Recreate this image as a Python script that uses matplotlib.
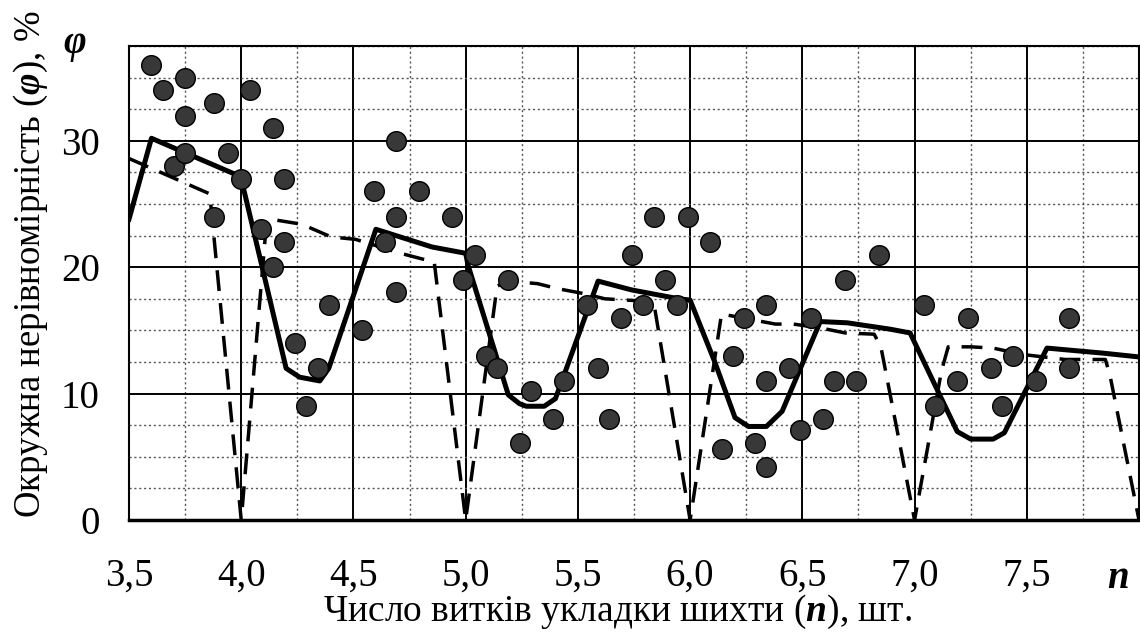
import numpy as np
import matplotlib.pyplot as plt
from matplotlib.ticker import MultipleLocator

plt.rcParams['font.family'] = ['Liberation Serif', 'DejaVu Serif']
plt.rcParams['mathtext.fontset'] = 'custom'
plt.rcParams['mathtext.rm'] = 'Liberation Serif'
plt.rcParams['mathtext.it'] = 'Liberation Serif:italic'
plt.rcParams['mathtext.bf'] = 'Liberation Serif:bold'
plt.rcParams['mathtext.bfit'] = 'Liberation Serif:italic:bold'

# експериментальні точки
n_exp = [3.60, 3.65, 3.75, 3.75, 3.70, 3.75, 3.88, 3.94, 4.00, 4.04, 3.88, 4.09, 4.14, 4.14,
         4.19, 4.19, 4.24, 4.29, 4.34, 4.39, 4.54, 4.59, 4.64, 4.69, 4.69, 4.69, 4.79, 4.94,
         4.99, 5.04, 5.09, 5.14, 5.19, 5.24, 5.29, 5.39, 5.44, 5.54, 5.59, 5.64, 5.69, 5.74,
         5.79, 5.84, 5.89, 5.94, 5.99, 6.09, 6.14, 6.19, 6.24, 6.29, 6.34, 6.34, 6.34, 6.44,
         6.49, 6.54, 6.59, 6.64, 6.69, 6.74, 6.84, 7.04, 7.09, 7.19, 7.24, 7.34, 7.39, 7.44,
         7.54, 7.69, 7.69]
phi_exp = [36, 34, 35, 32, 28, 29, 33, 29, 27, 34, 24, 23, 31, 20,
           27, 22, 14, 9, 12, 17, 15, 26, 22, 30, 24, 18, 26, 24,
           19, 21, 13, 12, 19, 6.1, 10.2, 8, 11, 17, 12, 8, 16, 21,
           17, 24, 19, 17, 24, 22, 5.6, 13, 16, 6.1, 11, 4.2, 17, 12,
           7.1, 16, 8, 11, 19, 11, 21, 17, 9, 11, 16, 12, 9, 13,
           11, 12, 16]

# згладжена крива (суцільна)
n_fit = [3.50, 3.60, 3.98, 4.00, 4.20, 4.26, 4.35, 4.39, 4.60, 4.85, 5.00, 5.01, 5.19, 5.24,
         5.27, 5.35, 5.40, 5.59, 5.74, 5.95, 6.00, 6.11, 6.20, 6.26, 6.34, 6.41, 6.58, 6.70,
         6.89, 6.98, 7.19, 7.25, 7.35, 7.40, 7.59, 7.84, 8.00]
phi_fit = [23.8, 30.2, 27.3, 27.0, 12.0, 11.3, 11.0, 12.0, 23.0, 21.6, 21.1, 20.2, 9.9, 9.2,
           9.0, 9.0, 9.6, 18.9, 18.2, 17.5, 17.4, 12.5, 8.1, 7.4, 7.4, 8.6, 15.7, 15.6,
           15.1, 14.8, 7.0, 6.4, 6.4, 6.9, 13.6, 13.2, 12.9]

# теоретична крива (штрихова)
n_th = [3.50, 3.86, 4.00, 4.11, 4.13, 4.27, 4.40, 4.51, 4.71, 4.86, 5.00, 5.14, 5.19, 5.32,
        5.41, 5.53, 5.62, 5.81, 5.84, 6.00, 6.14, 6.26, 6.38, 6.46, 6.58, 6.69, 6.82, 6.85,
        7.00, 7.12, 7.15, 7.25, 7.35, 7.48, 7.67, 7.85, 7.87, 8.00]
phi_th = [28.6, 25.8, 0.0, 23.0, 23.8, 23.4, 22.4, 22.2, 21.1, 20.4, 0.0, 18.5, 18.9, 18.7,
          18.3, 17.9, 17.5, 17.3, 17.0, 0.0, 16.3, 15.9, 15.5, 15.5, 15.2, 14.8, 14.7, 13.7,
          0.0, 11.8, 13.7, 13.7, 13.6, 13.1, 12.7, 12.7, 11.5, 0.0]

x_ticks = [3.5, 4.0, 4.5, 5.0, 5.5, 6.0, 6.5, 7.0, 7.5]
x_labels = ['3,5', '4,0', '4,5', '5,0', '5,5', '6,0', '6,5', '7,0', '7,5']
y_ticks = [0, 10, 20, 30]

fig = plt.figure(figsize=(11.4, 6.37), dpi=100)
ax = fig.add_axes([129 / 1140, 117 / 637, 1010 / 1140, 474 / 637])

ax.plot(n_th, phi_th, color='black', lw=2.5, dashes=(6, 3.5), zorder=3)
ax.plot(n_fit, phi_fit, color='black', lw=3.6, solid_joinstyle='round', zorder=4)
ax.scatter(n_exp, phi_exp, s=200, facecolor='#383838', edgecolor='black', lw=1, zorder=5)

ax.set_xlim(3.5, 8.0)
ax.set_ylim(0, 37.5)
ax.set_xticks(x_ticks)
ax.set_xticklabels(x_labels)
ax.set_yticks(y_ticks)
ax.xaxis.set_minor_locator(MultipleLocator(0.25))
ax.yaxis.set_minor_locator(MultipleLocator(2.5))
ax.grid(which='major', color='black', lw=1.4)
ax.grid(which='minor', color='#555555', lw=1.0, ls=(0, (1.5, 2)))
ax.set_axisbelow(True)
ax.tick_params(which='both', length=0, labelsize=28)
ax.tick_params(axis='x', pad=27)
ax.tick_params(axis='y', pad=21)
for s in ax.spines.values():
    s.set_linewidth(1.5)
ax.spines['bottom'].set_linewidth(2.5)

fig.text(0.027, 0.585, 'Окружна нерівномірність ($\\mathbfit{φ}$), %', rotation=90,
         ha='center', va='center', fontsize=26.5)
fig.text(75 / 1140, 1 - 45 / 637, '$\\mathbfit{φ}$', ha='center', va='center', fontsize=28)
fig.text(1118 / 1140, 1 - 578 / 637, '$\\mathbfit{n}$', ha='center', va='center', fontsize=28)
fig.text(618 / 1140, 1 - 612 / 637, 'Число витків укладки шихти ($\\mathbfit{n}$), шт.',
         ha='center', va='center', fontsize=27)

fig.savefig('out.png', dpi=100)
